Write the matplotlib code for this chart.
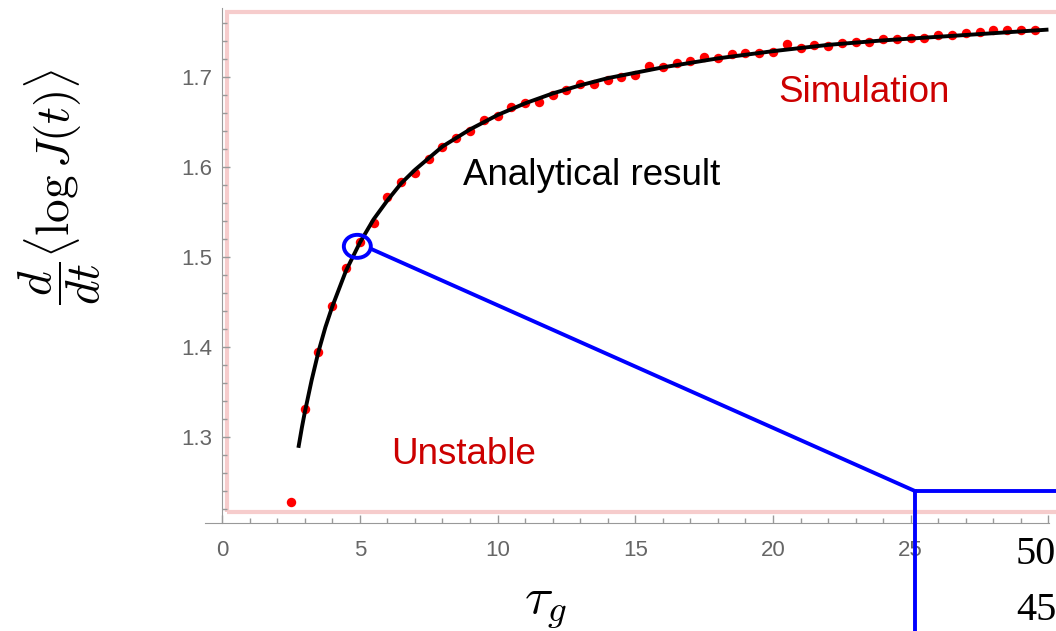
import matplotlib
matplotlib.use("Agg")
import matplotlib.pyplot as plt
from matplotlib.patches import Rectangle, Ellipse
from matplotlib.ticker import MultipleLocator

plt.rcParams['font.family'] = ['Liberation Sans', 'DejaVu Sans']
plt.rcParams['mathtext.fontset'] = 'cm'

#%% Data

# simulation points (tau_g, growth rate)
sim_tau = [2.5, 3.0, 3.5, 4.0, 4.5, 5.0, 5.5, 6.0, 6.5, 7.0, 7.5, 8.0, 8.5,
           9.0, 9.5, 10.0, 10.5, 11.0, 11.5, 12.0, 12.5, 13.0, 13.5, 14.0,
           14.5, 15.0, 15.5, 16.0, 16.5, 17.0, 17.5, 18.0, 18.5, 19.0, 19.5,
           20.0, 20.5, 21.0, 21.5, 22.0, 22.5, 23.0, 23.5, 24.0, 24.5, 25.0,
           25.5, 26.0, 26.5, 27.0, 27.5, 28.0, 28.5, 29.0, 29.5]
sim_rate = [1.228, 1.331, 1.394, 1.446, 1.488, 1.517, 1.538, 1.567, 1.583,
            1.594, 1.609, 1.622, 1.633, 1.640, 1.652, 1.657, 1.667, 1.671,
            1.672, 1.680, 1.686, 1.692, 1.693, 1.697, 1.700, 1.702, 1.713,
            1.711, 1.716, 1.718, 1.722, 1.721, 1.726, 1.727, 1.727, 1.728,
            1.737, 1.733, 1.736, 1.735, 1.738, 1.739, 1.739, 1.743, 1.742,
            1.744, 1.744, 1.747, 1.747, 1.749, 1.750, 1.752, 1.752, 1.752,
            1.752]

# analytical curve
ana_tau = [2.77, 2.9, 3.0, 3.25, 3.5, 3.75, 4.0, 4.5, 5.0, 5.5, 6.0, 6.5, 7.0,
           8.0, 9.0, 10.0, 11.0, 12.0, 13.0, 14.0, 15.0, 16.0, 18.0, 20.0,
           22.0, 24.0, 26.0, 28.0, 30.0]
ana_rate = [1.288, 1.311, 1.327, 1.363, 1.395, 1.422, 1.445, 1.485, 1.516,
            1.542, 1.563, 1.582, 1.597, 1.623, 1.642, 1.658, 1.671, 1.682,
            1.691, 1.699, 1.705, 1.711, 1.721, 1.729, 1.736, 1.741, 1.745,
            1.749, 1.753]

# zoom marker and the connector to the (cut off) inset
zoom_center = (4.91, 1.512)
conn_x = [5.42, 25.15]
conn_y = [1.509, 1.24]

#%% Figure

fig = plt.figure(figsize=(10.56, 6.31), dpi=100)
ax = fig.add_axes([205/1056, 1 - 523/631, 844/1056, 515/631])

ax.set_xlim(-0.62, 30.02)
ax.set_ylim(1.2044, 1.777)

# pink frame
ax.add_patch(Rectangle((0.18, 1.2167), 40, 1.773 - 1.2167, fill=False,
                       edgecolor='#f6cccc', lw=3, clip_on=False, zorder=1))

ax.plot(sim_tau, sim_rate, 'o', color='#ff0000', ms=6.8, mec='none',
        zorder=3)
ax.plot(ana_tau, ana_rate, '-', color='black', lw=2.8, zorder=4,
        solid_capstyle='butt')

# blue zoom indicator
ax.add_patch(Ellipse(zoom_center, 0.98, 0.0256, fill=False, edgecolor='#0000ff',
                     lw=2.8, zorder=5))
ax.plot(conn_x, conn_y, color='#0000ff', lw=2.8, zorder=5, clip_on=False)
ax.plot([conn_x[1], 32], [conn_y[1], conn_y[1]], color='#0000ff', lw=2.8,
        zorder=5, clip_on=False)
ax.plot([conn_x[1], conn_x[1]], [conn_y[1], 1.05], color='#0000ff', lw=2.8,
        zorder=5, clip_on=False)

ax.text(23.29, 1.683, 'Simulation', color='#cc0000', fontsize=26.5,
        ha='center', va='center')
ax.text(13.43, 1.591, 'Analytical result', color='black', fontsize=26.5,
        ha='center', va='center')
ax.text(8.77, 1.281, 'Unstable', color='#cc0000', fontsize=26.5,
        ha='center', va='center')

# axes in the mathematica style
for s in ['top', 'right']:
    ax.spines[s].set_visible(False)
ax.spines['left'].set_position(('data', 0))
ax.spines['left'].set_color('#999999')
ax.spines['bottom'].set_color('#999999')

ax.set_xticks([0, 5, 10, 15, 20, 25, 30])
ax.set_xticklabels(['0', '5', '10', '15', '20', '25', ''])
ax.xaxis.set_minor_locator(MultipleLocator(1))
ax.set_yticks([1.3, 1.4, 1.5, 1.6, 1.7])
ax.yaxis.set_minor_locator(MultipleLocator(0.02))
ax.tick_params(which='major', direction='in', length=6, width=1,
               color='#999999', labelcolor='#666666', labelsize=16)
ax.tick_params(which='minor', direction='in', length=3.5, width=1,
               color='#999999')
ax.tick_params(axis='x', which='major', pad=12)
ax.tick_params(axis='y', which='major', pad=7)

fig.text(60/1056, 1 - 187/631, r'$\dfrac{d}{dt}\langle\log J(t)\rangle$',
         rotation=90, fontsize=34, ha='center', va='center')
fig.text(545/1056, 1 - 606/631, r'$\tau_g$', fontsize=38,
         ha='center', va='center')

# tick labels of the cut-off inset
fig.text(1036/1056, 1 - 555/631, '50', family='Liberation Serif',
         fontsize=29, ha='center', va='center')
fig.text(1036/1056, 1 - 610/631, '45', family='Liberation Serif',
         fontsize=29, ha='center', va='center')

fig.savefig('out.png', dpi=100)
